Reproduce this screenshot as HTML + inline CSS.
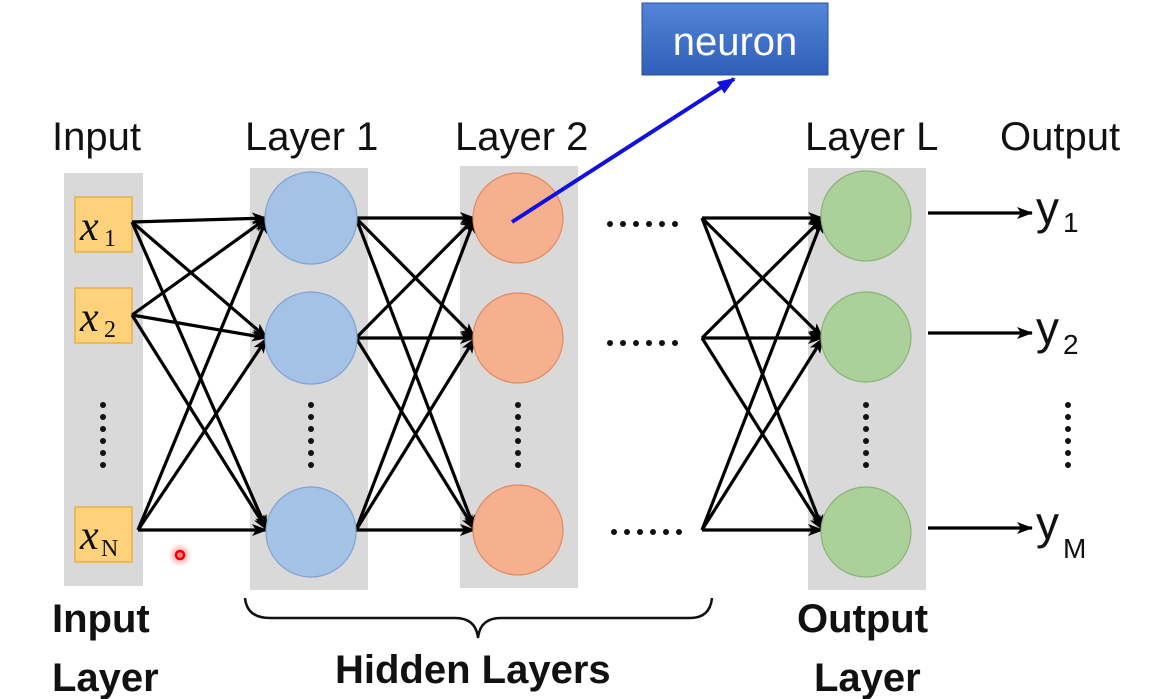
<!DOCTYPE html>
<html><head><style>
html,body{margin:0;padding:0;background:#fff;}
svg{display:block;}
text{font-family:"Liberation Sans",sans-serif;}
</style></head><body>
<svg width="1162" height="699" viewBox="0 0 1162 699" xmlns="http://www.w3.org/2000/svg">
<defs>
<marker id="a" markerWidth="16" markerHeight="12" refX="15" refY="6" orient="auto" markerUnits="userSpaceOnUse" viewBox="0 0 16 12">
<path d="M0,0 L16,6 L0,12 L4,6 z" fill="#000"/></marker>
<marker id="ab" markerWidth="18" markerHeight="14" refX="16" refY="7" orient="auto" markerUnits="userSpaceOnUse" viewBox="0 0 18 14">
<path d="M0,0 L18,7 L0,14 z" fill="#1010e0"/></marker>
<linearGradient id="nb" x1="0" y1="0" x2="0" y2="1"><stop offset="0" stop-color="#5585d8"/><stop offset="1" stop-color="#2f5fb8"/></linearGradient>
<radialGradient id="rd"><stop offset="0" stop-color="#ff4040" stop-opacity="0.8"/><stop offset="1" stop-color="#ff8080" stop-opacity="0"/></radialGradient>
<g id="vd"><circle cx="0" cy="0" r="3"/><circle cx="0" cy="12" r="3"/><circle cx="0" cy="24" r="3"/><circle cx="0" cy="36" r="3"/><circle cx="0" cy="48" r="3"/><circle cx="0" cy="60" r="3"/></g>
<g id="hd"><circle cx="0" cy="0" r="3"/><circle cx="13" cy="0" r="3"/><circle cx="26" cy="0" r="3"/><circle cx="39" cy="0" r="3"/><circle cx="52" cy="0" r="3"/><circle cx="65" cy="0" r="3"/></g>
</defs>

<rect x="64" y="173" width="79" height="413" fill="#d9d9d9"/>
<rect x="250" y="168" width="118" height="422" fill="#d9d9d9"/>
<rect x="460" y="166" width="118" height="422" fill="#d9d9d9"/>
<rect x="808" y="168" width="118" height="422" fill="#d9d9d9"/>

<g font-size="40" fill="#111">
<text x="52" y="150">Input</text>
<text x="245" y="150">Layer 1</text>
<text x="455" y="150">Layer 2</text>
<text x="805" y="150">Layer L</text>
<text x="1000" y="150">Output</text>
</g>

<g fill="#fdd27a" stroke="#e7b240" stroke-width="1.5">
<rect x="75" y="197" width="57" height="55"/>
<rect x="75" y="288" width="57" height="55"/>
<rect x="75" y="507" width="57" height="55"/>
</g>
<g fill="#111" font-style="italic" font-size="42">
<text x="80" y="240" style="font-family:'Liberation Serif',serif">x</text>
<text x="80" y="331" style="font-family:'Liberation Serif',serif">x</text>
<text x="80" y="549" style="font-family:'Liberation Serif',serif">x</text>
</g>
<g fill="#111" font-size="24">
<text x="104" y="246" style="font-family:'Liberation Serif',serif">1</text>
<text x="104" y="337" style="font-family:'Liberation Serif',serif">2</text>
<text x="101" y="556" style="font-family:'Liberation Serif',serif">N</text>
</g>

<g stroke="#000" stroke-width="3.2" fill="none" marker-end="url(#a)">
<line x1="132" y1="222" x2="267" y2="218"/>
<line x1="132" y1="222" x2="267" y2="338"/>
<line x1="132" y1="222" x2="267" y2="530"/>
<line x1="132" y1="315" x2="267" y2="218"/>
<line x1="132" y1="315" x2="267" y2="338"/>
<line x1="132" y1="315" x2="267" y2="530"/>
<line x1="138" y1="530" x2="267" y2="218"/>
<line x1="138" y1="530" x2="267" y2="338"/>
<line x1="138" y1="530" x2="267" y2="530"/>
<line x1="356" y1="218" x2="475" y2="218"/>
<line x1="356" y1="218" x2="475" y2="338"/>
<line x1="356" y1="218" x2="475" y2="530"/>
<line x1="356" y1="338" x2="475" y2="218"/>
<line x1="356" y1="338" x2="475" y2="338"/>
<line x1="356" y1="338" x2="475" y2="530"/>
<line x1="356" y1="530" x2="475" y2="218"/>
<line x1="356" y1="530" x2="475" y2="338"/>
<line x1="356" y1="530" x2="475" y2="530"/>
<line x1="702" y1="218" x2="823" y2="218"/>
<line x1="702" y1="218" x2="823" y2="338"/>
<line x1="702" y1="218" x2="823" y2="530"/>
<line x1="702" y1="338" x2="823" y2="218"/>
<line x1="702" y1="338" x2="823" y2="338"/>
<line x1="702" y1="338" x2="823" y2="530"/>
<line x1="702" y1="530" x2="823" y2="218"/>
<line x1="702" y1="530" x2="823" y2="338"/>
<line x1="702" y1="530" x2="823" y2="530"/>
<line x1="928" y1="213" x2="1032" y2="213"/>
<line x1="928" y1="333" x2="1032" y2="333"/>
<line x1="928" y1="528" x2="1032" y2="528"/>
</g>

<g stroke-width="1.2">
<circle cx="311" cy="218" r="46" fill="#a4c2e6" stroke="#7fa3d0"/>
<circle cx="311" cy="338" r="46" fill="#a4c2e6" stroke="#7fa3d0"/>
<circle cx="311" cy="532" r="45" fill="#a4c2e6" stroke="#7fa3d0"/>
<circle cx="518" cy="218" r="45" fill="#f7b08e" stroke="#e08a60"/>
<circle cx="518" cy="338" r="45" fill="#f7b08e" stroke="#e08a60"/>
<circle cx="518" cy="530" r="45" fill="#f7b08e" stroke="#e08a60"/>
<circle cx="866" cy="216" r="45" fill="#abd09a" stroke="#88b474"/>
<circle cx="866" cy="337" r="45" fill="#abd09a" stroke="#88b474"/>
<circle cx="866" cy="532" r="45" fill="#abd09a" stroke="#88b474"/>
</g>

<g fill="#111">
<use href="#vd" x="103" y="405"/>
<use href="#vd" x="311" y="405"/>
<use href="#vd" x="518" y="405"/>
<use href="#vd" x="866" y="405"/>
<use href="#vd" x="1068" y="405"/>
<use href="#hd" x="610" y="224"/>
<use href="#hd" x="610" y="343"/>
<use href="#hd" x="614" y="532"/>
</g>

<g font-size="46" fill="#111">
<text x="1036" y="224">y</text><text x="1063" y="232" font-size="28">1</text>
<text x="1036" y="344">y</text><text x="1063" y="354" font-size="28">2</text>
<text x="1036" y="539">y</text><text x="1063" y="558" font-size="28">M</text>
</g>

<rect x="642" y="3" width="186" height="72" fill="url(#nb)" stroke="#2a4f9a" stroke-width="1"/>
<text x="735" y="55" font-size="40" fill="#fff" text-anchor="middle">neuron</text>
<line x1="512" y1="222" x2="734" y2="79" stroke="#1010e0" stroke-width="4" marker-end="url(#ab)"/>

<path d="M245,598 Q247,618 270,618 L455,618 Q476,618 478,638 Q480,618 501,618 L690,618 Q710,618 712,598" fill="none" stroke="#111" stroke-width="2.5"/>

<circle cx="180" cy="555" r="12" fill="url(#rd)"/>
<circle cx="180" cy="555" r="4" fill="none" stroke="#e00" stroke-width="2.5"/>

<g font-size="40" font-weight="bold" fill="#111">
<text x="52" y="632">Input</text>
<text x="52" y="691">Layer</text>
<text x="335" y="683">Hidden Layers</text>
<text x="797" y="632">Output</text>
<text x="814" y="691">Layer</text>
</g>
</svg>
</body></html>
